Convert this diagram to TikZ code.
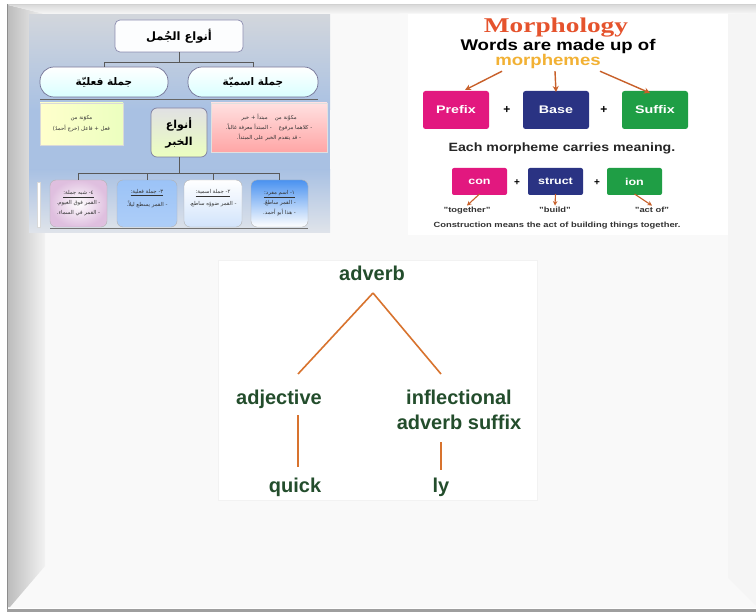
\documentclass[tikz,border=0pt]{standalone}
\usepackage{graphicx}
\usepackage{fontspec}
\setmainfont{Liberation Sans}
\newfontfamily\arab[Script=Arabic]{DejaVu Sans}
\newfontfamily\lserif{Liberation Serif}
\TeXXeTstate=1
\usetikzlibrary{calc,arrows.meta,shadings}
\definecolor{face}{HTML}{F9F9F9}
\definecolor{morphred}{HTML}{E5532D}
\definecolor{gold}{HTML}{F2B134}
\definecolor{brownarrow}{HTML}{C8602A}
\definecolor{magentabox}{HTML}{E2187F}
\definecolor{navybox}{HTML}{2A3383}
\definecolor{greenbox}{HTML}{1F9E45}
\definecolor{treegreen}{HTML}{234D2C}
\definecolor{treeorange}{HTML}{D8732E}
\definecolor{artop}{HTML}{D2D6DC}
\definecolor{armid}{HTML}{A9C1E3}
\definecolor{arbot}{HTML}{E0E4EA}
\definecolor{boxblue}{HTML}{4A92F0}
\newcommand{\AR}[1]{\beginR #1\endR}
\newcommand{\wide}[2]{\scalebox{#1}[1]{#2}}
\begin{document}
\begin{tikzpicture}[x=1pt,y=-1pt,
  every node/.style={inner sep=0pt, outer sep=0pt},
  artext/.style={font=\arab\fontsize{5.4}{8}\selectfont, align=center, text=black!80},
  arhead/.style={font=\arab\bfseries\fontsize{10.5}{15}\selectfont, text=black, align=center},
  bus/.style={draw=black!65, line width=0.9pt},
  bottombox/.style={draw=black!30, rounded corners=6pt, minimum height=47pt},
  mbox/.style={rounded corners=2.5pt, text=white, font=\bfseries\fontsize{11}{11}\selectfont},
  sbox/.style={rounded corners=2pt, text=white, font=\bfseries\fontsize{10}{10}\selectfont, minimum width=55pt, minimum height=27pt},
  marrow/.style={draw=brownarrow, line width=1.4pt, -{Stealth[length=6pt,width=6pt]}},
  sarrow/.style={draw=brownarrow, line width=1.1pt, -{Stealth[length=4.5pt,width=4.5pt]}},
  plus/.style={font=\bfseries\fontsize{12}{12}\selectfont},
  qlabel/.style={font=\bfseries\fontsize{7.5}{7.5}\selectfont, text=black!80},
  treetext/.style={font=\bfseries\fontsize{20}{25}\selectfont, text=treegreen, align=center, anchor=base},
  treeline/.style={draw=treeorange, line width=1.6pt}
]
\useasboundingbox (0,0) rectangle (756,615);
% ---------- slide frame ----------
\fill[white] (0,0) rectangle (756,615);
\fill[face] (8,5) rectangle (756,608);
\shade[left color=black!26, right color=black!5] (8,5) -- (45,14) -- (45,566) -- (10,607) -- (8,607) -- cycle;
\shade[top color=black!14, bottom color=black!3] (8,5) -- (756,5) -- (756,13) -- (45,14) -- cycle;
\fill[black!4] (728,14) -- (756,13) -- (756,606) -- (728,578) -- cycle;
\draw[black!45, line width=1.2pt] (7.5,4) -- (7.5,609);
\draw[black!18, line width=0.8pt] (7.5,4) -- (756,4);
\fill[black!38] (7,608.5) rectangle (756,612);
% ---------- Arabic diagram (top left) ----------
\shade[top color=artop, bottom color=armid] (29,15) rectangle (330,110);
\fill[armid] (29,110) rectangle (330,170);
\shade[top color=armid, bottom color=arbot] (29,170) rectangle (330,233);
\node[draw=blue!30!black!45, line width=0.7pt, rounded corners=5pt, fill=cyan!20!white!90!black!5, minimum width=128pt, minimum height=32pt] (tbox) at (179,36) {};
\node[arhead, font=\arab\bfseries\fontsize{11.5}{14}\selectfont] at (tbox.center) {\AR{أنواع الجُمل}};
\node[draw=blue!25!black!55, line width=0.7pt, rounded corners=14pt, top color=white, bottom color=cyan!15!white, minimum width=128pt, minimum height=30pt] (pillL) at (104,82) {};
\node[arhead] at (pillL.center) {\AR{جملة فعليّة}};
\node[draw=blue!25!black!55, line width=0.7pt, rounded corners=14pt, top color=white, bottom color=cyan!15!white, minimum width=130pt, minimum height=30pt] (pillR) at (253,82) {};
\node[arhead] at (pillR.center) {\AR{جملة اسميّة}};
\draw[bus] (tbox.south) -- ++(0,10);
\draw[bus] (pillL.north) -- ++(0,-5) -| (pillR.north);
\draw[black!60, line width=0.8pt] ([yshift=-2pt]pillL.south west) -- ([yshift=-2pt]pillR.south east);
\node[draw=black!15, left color=yellow!20!white, right color=green!30!yellow!25!white, minimum width=83pt, minimum height=42pt] (gbox) at (81.5,124) {};
\node[artext] at (gbox.center) {\AR{مكوّنة من}\\[3pt]\AR{فعل + فاعل (خرج أحمدُ)}};
\node[draw=blue!25!black!50, line width=0.7pt, rounded corners=6pt, top color=blue!10!black!12!white, bottom color=green!30!yellow!25!white, minimum width=56pt, minimum height=49pt] (kbox) at (179,132.5) {};
\node[arhead, font=\arab\bfseries\fontsize{11}{17}\selectfont] at (kbox.center) {\AR{أنواع}\\\AR{الخبر}};
\node[draw=black!12, top color=red!12!white, bottom color=red!35!white, minimum width=116pt, minimum height=49pt] (pbox) at (269,127.5) {};
\node[artext] at (pbox.center) {\AR{مكوّنة من \quad مبتدأ + خبر}\\[2pt]\AR{- كلاهما مرفوع \quad - المبتدأ معرفة غالباً.}\\[2pt]\AR{- قد يتقدم الخبر على المبتدأ.}};
\node[bottombox, inner color=white, outer color=violet!25!white, minimum width=57pt] (b4) at (78.5,203.5) {};
\node[artext] at (b4.center) {\underline{\hbox{\AR{٤- شبه جملة:}}}\\[2pt]\AR{- القمر فوق الغيوم.}\\[2pt]\AR{- القمر في السماء.}};
\node[bottombox, top color=boxblue!55, middle color=boxblue, bottom color=boxblue!45, minimum width=60pt] (b3) at (147,203.5) {};
\node[artext] at ([yshift=5pt]b3.center) {\underline{\hbox{\AR{٣- جملة فعلية:}}}\\[4pt]\AR{- القمر يسطع ليلاً.}};
\node[bottombox, top color=white, middle color=boxblue!90, bottom color=boxblue!25, minimum width=58pt] (b2) at (213,203.5) {};
\node[artext] at ([yshift=5pt]b2.center) {\underline{\hbox{\AR{٢- جملة اسمية:}}}\\[4pt]\AR{- القمر ضوؤه ساطع.}};
\node[bottombox, top color=boxblue, bottom color=white, minimum width=57pt] (b1) at (279.5,203.5) {};
\node[artext] at (b1.center) {\underline{\hbox{\AR{١- اسم مفرد:}}}\\[2pt]\AR{- القمر ساطعٌ.}\\[2pt]\AR{- هذا أبو أحمد.}};
\draw[bus] (kbox.south) -- ++(0,16);
\draw[bus] (b4.north) -- ++(0,-7) -| (b1.north);
\draw[bus] (b3.north) -- ++(0,-7);
\draw[bus] (b2.north) -- ++(0,-7);
\draw[black!55, line width=0.8pt] ([yshift=-1.5pt]b4.south west) -- ([yshift=-1.5pt]b1.south east);
\node[fill=white, draw=black!15, minimum width=3pt, minimum height=45pt] (logo) at (38.5,204.5) {};
% ---------- Morphology (top right) ----------
\fill[white] (408,14) rectangle (728,235);
\node[font=\lserif\bfseries\fontsize{21}{21}\selectfont, text=morphred, anchor=base] (title) at (556,33) {\wide{1.3}{Morphology}};
\node[font=\bfseries\fontsize{15.5}{15.5}\selectfont, anchor=base] (words) at (558,51) {\wide{1.2}{Words are made up of}};
\node[font=\bfseries\fontsize{15.5}{15.5}\selectfont, text=gold, anchor=base] (morph) at (548,66) {\wide{1.2}{morphemes}};
\node[mbox, fill=magentabox, minimum width=66pt, minimum height=38pt] (prefix) at (456,110) {\wide{1.3}{Prefix}};
\node[mbox, fill=navybox, minimum width=66pt, minimum height=38pt] (base) at (556,110) {\wide{1.3}{Base}};
\node[mbox, fill=greenbox, minimum width=66pt, minimum height=38pt] (suffix) at (655,110) {\wide{1.3}{Suffix}};
\node[plus] (p1) at (507,110) {+};
\node[plus] (p2) at (604,110) {+};
\draw[marrow] ([xshift=-46pt,yshift=-2pt]morph.south) -- ([xshift=9pt,yshift=1pt]prefix.north);
\draw[marrow] ([xshift=7pt,yshift=-2pt]morph.south) -- ([yshift=-1pt]base.north);
\draw[marrow] ([xshift=52pt,yshift=-2pt]morph.south) -- ([xshift=-5pt,yshift=-2pt]suffix.north);
\node[font=\bfseries\fontsize{12}{12}\selectfont, text=black!85, anchor=base] (each) at (562,152) {\wide{1.18}{Each morpheme carries meaning.}};
\node[sbox, fill=magentabox] (con) at (479.5,181.5) {\wide{1.25}{con}};
\node[sbox, fill=navybox] (struct) at (555.5,181.5) {\wide{1.25}{struct}};
\node[sbox, fill=greenbox] (ion) at (634.5,181.5) {\wide{1.25}{ion}};
\node[plus, font=\bfseries\fontsize{10}{10}\selectfont] (p3) at (517,183) {+};
\node[plus, font=\bfseries\fontsize{10}{10}\selectfont] (p4) at (597,183) {+};
\node[qlabel, anchor=base] (tog) at (467,213) {\wide{1.25}{"together"}};
\node[qlabel, anchor=base] (build) at (555,213) {\wide{1.25}{"build"}};
\node[qlabel, anchor=base] (actof) at (652,213) {\wide{1.25}{"act of"}};
\draw[sarrow] ([yshift=1pt]con.south) -- ([yshift=2pt]tog.north);
\draw[sarrow] ([yshift=1pt]struct.south) -- ([yshift=2pt]build.north);
\draw[sarrow] ([yshift=1pt]ion.south) -- ([yshift=2pt]actof.north);
\node[font=\bfseries\fontsize{7.5}{7.5}\selectfont, text=black!80, anchor=base] (constr) at (557,228) {\wide{1.25}{Construction means the act of building things together.}};
% ---------- tree (bottom centre) ----------
\node[fill=white, draw=black!5, minimum width=319pt, minimum height=240pt] (treebox) at (377.5,380) {};
\node[treetext] (adverb) at (372,280) {adverb};
\node[treetext] (adj) at (279,404) {adjective};
\node[treetext] (infl) at (459,429) {inflectional\\adverb suffix};
\node[treetext] (quick) at (295,492) {quick};
\node[treetext] (ly) at (441,492) {ly};
\coordinate (apex) at (373,293);
\coordinate (lfoot) at (298,374);
\coordinate (rfoot) at (441,374);
\coordinate (ltop) at (298,415);
\coordinate (lbot) at (298,467);
\coordinate (rtop) at (441,442);
\coordinate (rbot) at (441,470);
\draw[treeline] (apex) -- (lfoot);
\draw[treeline] (apex) -- (rfoot);
\draw[treeline] (ltop) -- (lbot);
\draw[treeline] (rtop) -- (rbot);
\end{tikzpicture}
\end{document}
